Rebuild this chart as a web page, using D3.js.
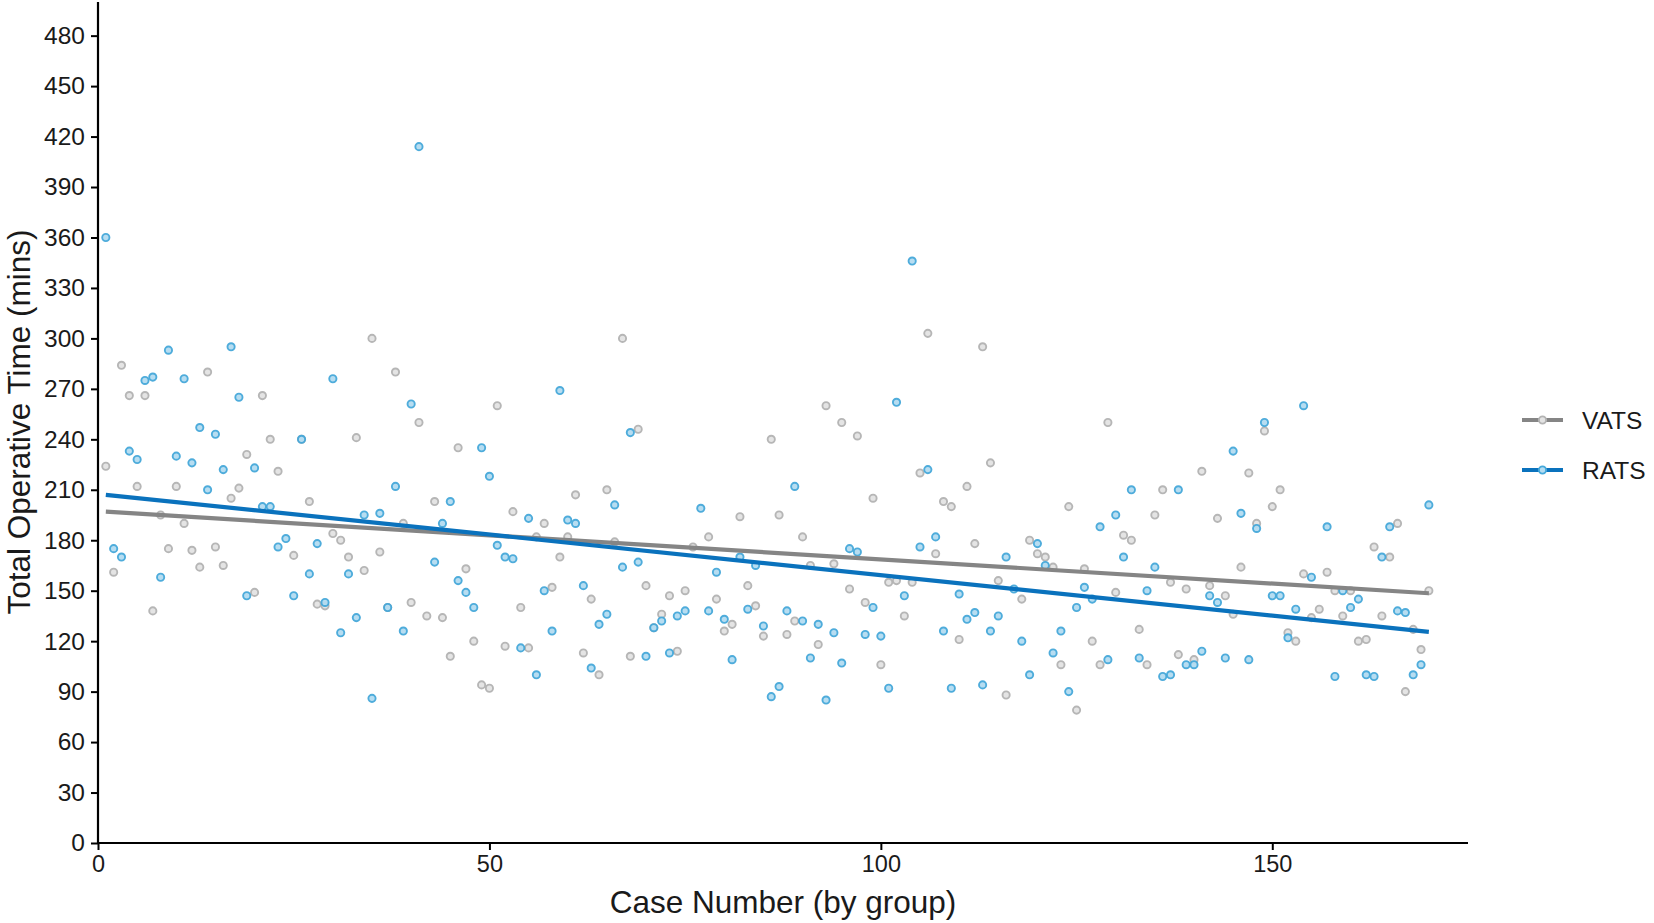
<!DOCTYPE html>
<html>
<head>
<meta charset="utf-8">
<script src="https://cdn.jsdelivr.net/npm/d3@7"></script>
<style>
  html, body { margin: 0; padding: 0; background: #fff; }
  svg { display: block; }
  text { font-family: "Liberation Sans", Arial, Helvetica, sans-serif; fill: #1a1a1a; }
</style>
</head>
<body>
<svg id="chart" width="1654" height="923"></svg>
<script>
// ---------- DATA ----------
const seriesNames = ["VATS", "RATS"];

const ratsCase = [1,2,3,4,5,6,7,8,9,10,11,12,13,14,15,16,17,18,19,20,21,22,23,24,25,26,27,28,29,30,
  31,32,33,34,35,36,37,38,39,40,41,43,44,45,46,47,48,49,50,51,52,53,54,55,56,57,58,59,60,
  61,62,63,64,65,66,67,68,69,70,71,72,73,74,75,77,78,79,80,81,82,83,84,85,86,87,88,89,90,
  91,92,93,94,95,96,97,98,99,100,101,102,103,104,105,106,107,108,109,110,111,112,113,114,115,116,117,118,119,120,
  121,122,123,124,125,126,127,128,129,130,131,132,133,134,135,136,137,138,139,140,141,142,143,144,145,146,147,148,149,150,
  151,152,153,154,155,157,158,159,160,161,162,163,164,165,166,167,168,169,170];
const ratsTime = [360,175,170,233,228,275,277,158,293,230,276,226,247,210,243,222,295,265,147,223,200,200,176,181,147,240,160,178,143,276,
  125,160,134,195,86,196,140,212,126,261,414,167,190,203,156,149,140,235,218,177,170,169,116,193,100,150,126,269,192,
  190,153,104,130,136,201,164,244,167,111,128,132,113,135,138,199,138,161,133,109,170,139,165,129,87,93,138,212,132,
  110,130,85,125,107,175,173,124,140,123,92,262,147,346,176,222,182,126,92,148,133,137,94,126,135,170,151,120,100,178,
  165,113,126,90,140,152,145,188,109,195,170,210,110,150,164,99,100,210,106,106,114,147,143,110,233,196,109,187,250,147,
  147,122,139,260,158,188,99,150,140,145,100,99,170,188,138,137,100,106,201];

const vatsCase = [1,2,3,4,5,6,7,8,9,10,11,12,13,14,15,16,17,18,19,20,21,22,23,25,26,27,28,29,30,
  31,32,33,34,35,36,37,38,39,40,41,42,43,44,45,46,47,48,49,50,51,52,53,54,55,56,57,58,59,60,
  61,62,63,64,65,66,67,68,69,70,71,72,73,74,75,76,78,79,80,81,82,83,84,85,86,87,88,89,90,
  91,92,93,94,95,96,97,98,99,100,101,102,103,104,105,106,107,108,109,110,111,112,113,114,115,116,118,119,120,
  121,122,123,124,125,126,127,128,129,130,131,132,133,134,135,136,137,138,139,140,141,142,143,144,145,146,147,148,149,150,
  151,152,153,154,155,156,157,158,159,160,161,162,163,164,165,166,167,168,169,170];
const vatsTime = [224,161,284,266,212,266,138,195,175,212,190,174,164,280,176,165,205,211,231,149,266,240,221,171,240,203,142,141,184,
  180,170,241,162,300,173,140,280,190,143,250,135,203,134,111,235,163,120,94,92,260,117,197,140,116,182,190,152,170,182,
  207,113,145,100,210,179,300,111,246,153,128,136,147,114,150,176,182,145,126,130,194,153,141,123,240,195,124,132,182,
  165,118,260,166,250,151,242,143,205,106,155,156,135,155,220,303,172,203,200,121,212,178,295,226,156,88,145,180,172,
  170,164,106,200,79,163,120,106,250,149,183,180,127,106,195,210,155,112,151,109,221,153,193,147,136,164,220,190,245,200,
  210,125,120,160,134,139,161,150,135,150,120,121,176,135,170,190,90,127,115,150];

// fitted trend lines (end points)
const vatsFitCase = [1, 170];
const vatsFitTime = [197, 148.5];
const ratsFitCase = [1, 170];
const ratsFitTime = [207, 125.5];

const yTicks = [0,30,60,90,120,150,180,210,240,270,300,330,360,390,420,450,480];
const xTicks = [0,50,100,150];

// ---------- DRAW ----------
const svg = d3.select("#chart");
const x = d3.scaleLinear().domain([0, 175]).range([98, 1468]);
const y = d3.scaleLinear().domain([0, 500]).range([843, 2]);

const colors = {
  VATS: { line: "#858585", stroke: "#b3b3b3", fill: "#e3e3e3" },
  RATS: { line: "#0a72bd", stroke: "#45a8da", fill: "#b4dcf1" }
};

// points
function drawPoints(cs, ts, c) {
  svg.append("g").selectAll("circle")
    .data(d3.zip(cs, ts))
    .join("circle")
    .attr("cx", d => x(d[0]))
    .attr("cy", d => y(d[1]))
    .attr("r", 3.6)
    .attr("fill", c.fill)
    .attr("stroke", c.stroke)
    .attr("stroke-width", 1.9)
    .attr("opacity", 0.95);
}
drawPoints(vatsCase, vatsTime, colors.VATS);
drawPoints(ratsCase, ratsTime, colors.RATS);

// trend lines
const line = d3.line().x(d => x(d[0])).y(d => y(d[1]));
svg.append("path").datum(d3.zip(vatsFitCase, vatsFitTime))
  .attr("d", line).attr("fill", "none").attr("stroke", colors.VATS.line).attr("stroke-width", 4.2);
svg.append("path").datum(d3.zip(ratsFitCase, ratsFitTime))
  .attr("d", line).attr("fill", "none").attr("stroke", colors.RATS.line).attr("stroke-width", 4.2);

// axes
const yAxis = svg.append("g").attr("transform", `translate(${x(0)},0)`)
  .call(d3.axisLeft(y).tickValues(yTicks).tickSize(7).tickPadding(6));
const xAxis = svg.append("g").attr("transform", `translate(0,${y(0)})`)
  .call(d3.axisBottom(x).tickValues(xTicks).tickSize(7).tickPadding(5));

[yAxis, xAxis].forEach(a => {
  a.select(".domain").attr("stroke", "#000").attr("stroke-width", 2.2);
  a.selectAll(".tick line").attr("stroke", "#000").attr("stroke-width", 2);
  a.selectAll(".tick text").attr("fill", "#2b2b2b")
    .style("font-family", '"Liberation Sans", Arial, sans-serif');
});
yAxis.selectAll(".tick text").style("font-size", "24.5px");
xAxis.selectAll(".tick text").style("font-size", "23.5px");
// extend axes lines to full plot extent
yAxis.select(".domain").attr("d", `M0,${y(500)}V${y(0)}`);
xAxis.select(".domain").attr("d", `M${x(0)},0H${x(175)}`);

// axis titles
svg.append("text")
  .attr("x", 783).attr("y", 913)
  .attr("text-anchor", "middle")
  .style("font-size", "31.5px")
  .text("Case Number (by group)");
svg.append("text")
  .attr("transform", "translate(30,422) rotate(-90)")
  .attr("text-anchor", "middle")
  .style("font-size", "31.5px")
  .text("Total Operative Time (mins)");

// legend
const legend = svg.append("g");
seriesNames.forEach((name, i) => {
  const c = colors[name];
  const ly = 420 + i * 50;
  legend.append("line")
    .attr("x1", 1522).attr("x2", 1563).attr("y1", ly).attr("y2", ly)
    .attr("stroke", c.line).attr("stroke-width", 4.2);
  legend.append("circle")
    .attr("cx", 1542.5).attr("cy", ly).attr("r", 3.6)
    .attr("fill", c.fill).attr("stroke", c.stroke).attr("stroke-width", 1.9);
  legend.append("text")
    .attr("x", 1582).attr("y", ly).attr("dy", "0.36em")
    .style("font-size", "24.5px")
    .text(name);
});
</script>
</body>
</html>
